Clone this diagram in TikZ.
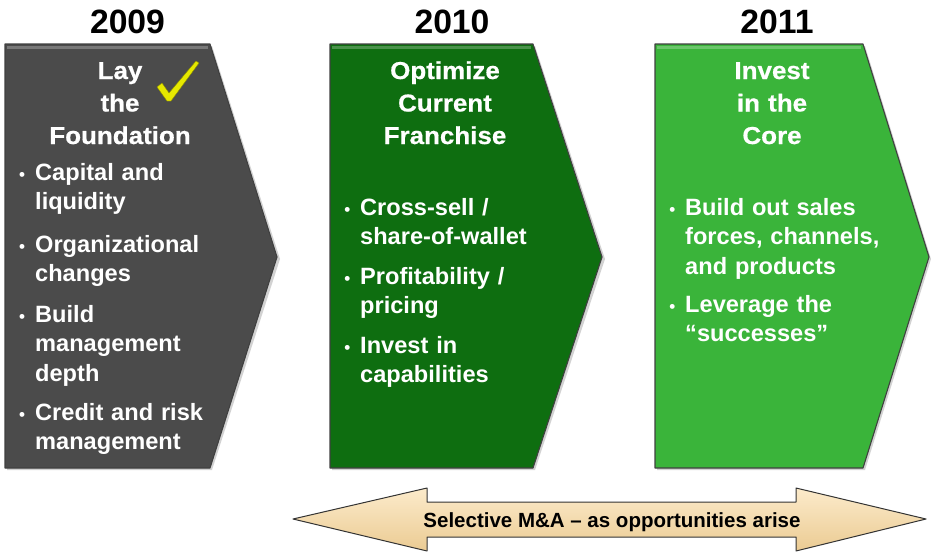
\documentclass[tikz,border=0pt]{standalone}
\usepackage{fontspec}
\setmainfont{Liberation Sans}
\newfontfamily\titlefont[FakeStretch=1.06, FakeBold=0.6]{Liberation Sans}
\definecolor{slate}{HTML}{4B4B4B}
\definecolor{forest}{HTML}{0E6E10}
\definecolor{leaf}{HTML}{3AB43A}
\definecolor{creamtop}{HTML}{FCEBCB}
\definecolor{creambot}{HTML}{EBCB93}
\definecolor{tick}{HTML}{E6E800}
\tikzset{
  chev/.style={draw=black!75, line width=1.1pt, line join=round},
  year/.style={anchor=base, inner sep=0, font=\fontsize{33.7}{36}\selectfont\bfseries},
  ttl/.style={anchor=base, inner sep=0, align=center, text width=200pt, text=white,
    font=\titlefont\fontsize{24.5}{32.5}\selectfont\bfseries},
  bul/.style={anchor=base west, inner sep=0, align=left, text width=240pt, text=white,
    font=\fontsize{23.6}{29.7}\selectfont\bfseries},
  lbl/.style={anchor=base, inner sep=0, font=\fontsize{20.5}{22}\selectfont\bfseries}
}
\newcommand{\dotmark}{\llap{{\fontsize{17}{17}\selectfont\textbullet}\hspace{10pt}}}
\begin{document}
\begin{tikzpicture}[x=1pt, y=-1pt]
\useasboundingbox (0,0) rectangle (931,552);

% three chevron panels, each with a soft shadow beneath
\fill[black!35, opacity=0.5] (7,46) -- (212,46) -- (280,259) -- (212,470) -- (7,470) -- cycle;
\filldraw[chev, fill=slate] (5,44) -- (210,44) -- (277,257) -- (210,468) -- (5,468) -- cycle;
\fill[black!35, opacity=0.5] (332,46) -- (535,46) -- (605,259) -- (535,470) -- (332,470) -- cycle;
\filldraw[chev, fill=forest] (330,44) -- (533,44) -- (602,257) -- (533,468) -- (330,468) -- cycle;
\fill[black!35, opacity=0.5] (657,46) -- (865,46) -- (931,259) -- (865,470) -- (657,470) -- cycle;
\filldraw[chev, fill=leaf] (655,44) -- (863,44) -- (929,257) -- (863,468) -- (655,468) -- cycle;

% bevel highlights along the top edges
\draw[white, opacity=0.25, line width=3pt] (7,47) -- (208,47);
\draw[white, opacity=0.25, line width=3pt] (332,47) -- (531,47);
\draw[white, opacity=0.25, line width=3pt] (657,47) -- (861,47);

% years
\node[year] (y2009) at (127.5,33) {2009};
\node[year] (y2010) at (452,33) {2010};
\node[year] (y2011) at (777,33) {2011};

% phase titles
\node[ttl] (t1) at (120,79) {Lay\\the\\Foundation};
\node[ttl] (t2) at (445,79) {Optimize\\Current\\Franchise};
\node[ttl] (t3) at (772,79) {Invest\\in the\\Core};

% tick mark
\filldraw[fill=tick, draw=tick!60!black, line width=0.4pt, line join=round]
  (157,87) -- (162,83) -- (169,93) -- (196,61) -- (199,63) -- (171,101) -- (167,101) -- cycle;

% 2009 items
\node[bul] (a1) at (35,180) {\dotmark Capital and\\liquidity};
\node[bul] (a2) at (35,252) {\dotmark Organizational\\changes};
\node[bul] (a3) at (35,322) {\dotmark Build\\management\\depth};
\node[bul] (a4) at (35,420) {\dotmark Credit and risk\\management};

% 2010 items
\node[bul] (b1) at (360,215) {\dotmark Cross-sell /\\share-of-wallet};
\node[bul] (b2) at (360,284) {\dotmark Profitability /\\pricing};
\node[bul] (b3) at (360,353) {\dotmark Invest in\\capabilities};

% 2011 items
\node[bul] (c1) at (685,215) {\dotmark Build out sales\\forces, channels,\\and products};
\node[bul] (c2) at (685,312) {\dotmark Leverage the\\“successes”};

% double-headed M&A arrow
\shade[top color=creamtop, bottom color=creambot, draw=black!80, line width=1pt, line join=round]
  (293,519) -- (427,488) -- (427,502) -- (796,502) -- (796,488) -- (926,519)
  -- (796,551) -- (796,537) -- (427,537) -- (427,551) -- cycle;
\node[lbl] (ma) at (612,527) {Selective M\&A – as opportunities arise};
\end{tikzpicture}
\end{document}
